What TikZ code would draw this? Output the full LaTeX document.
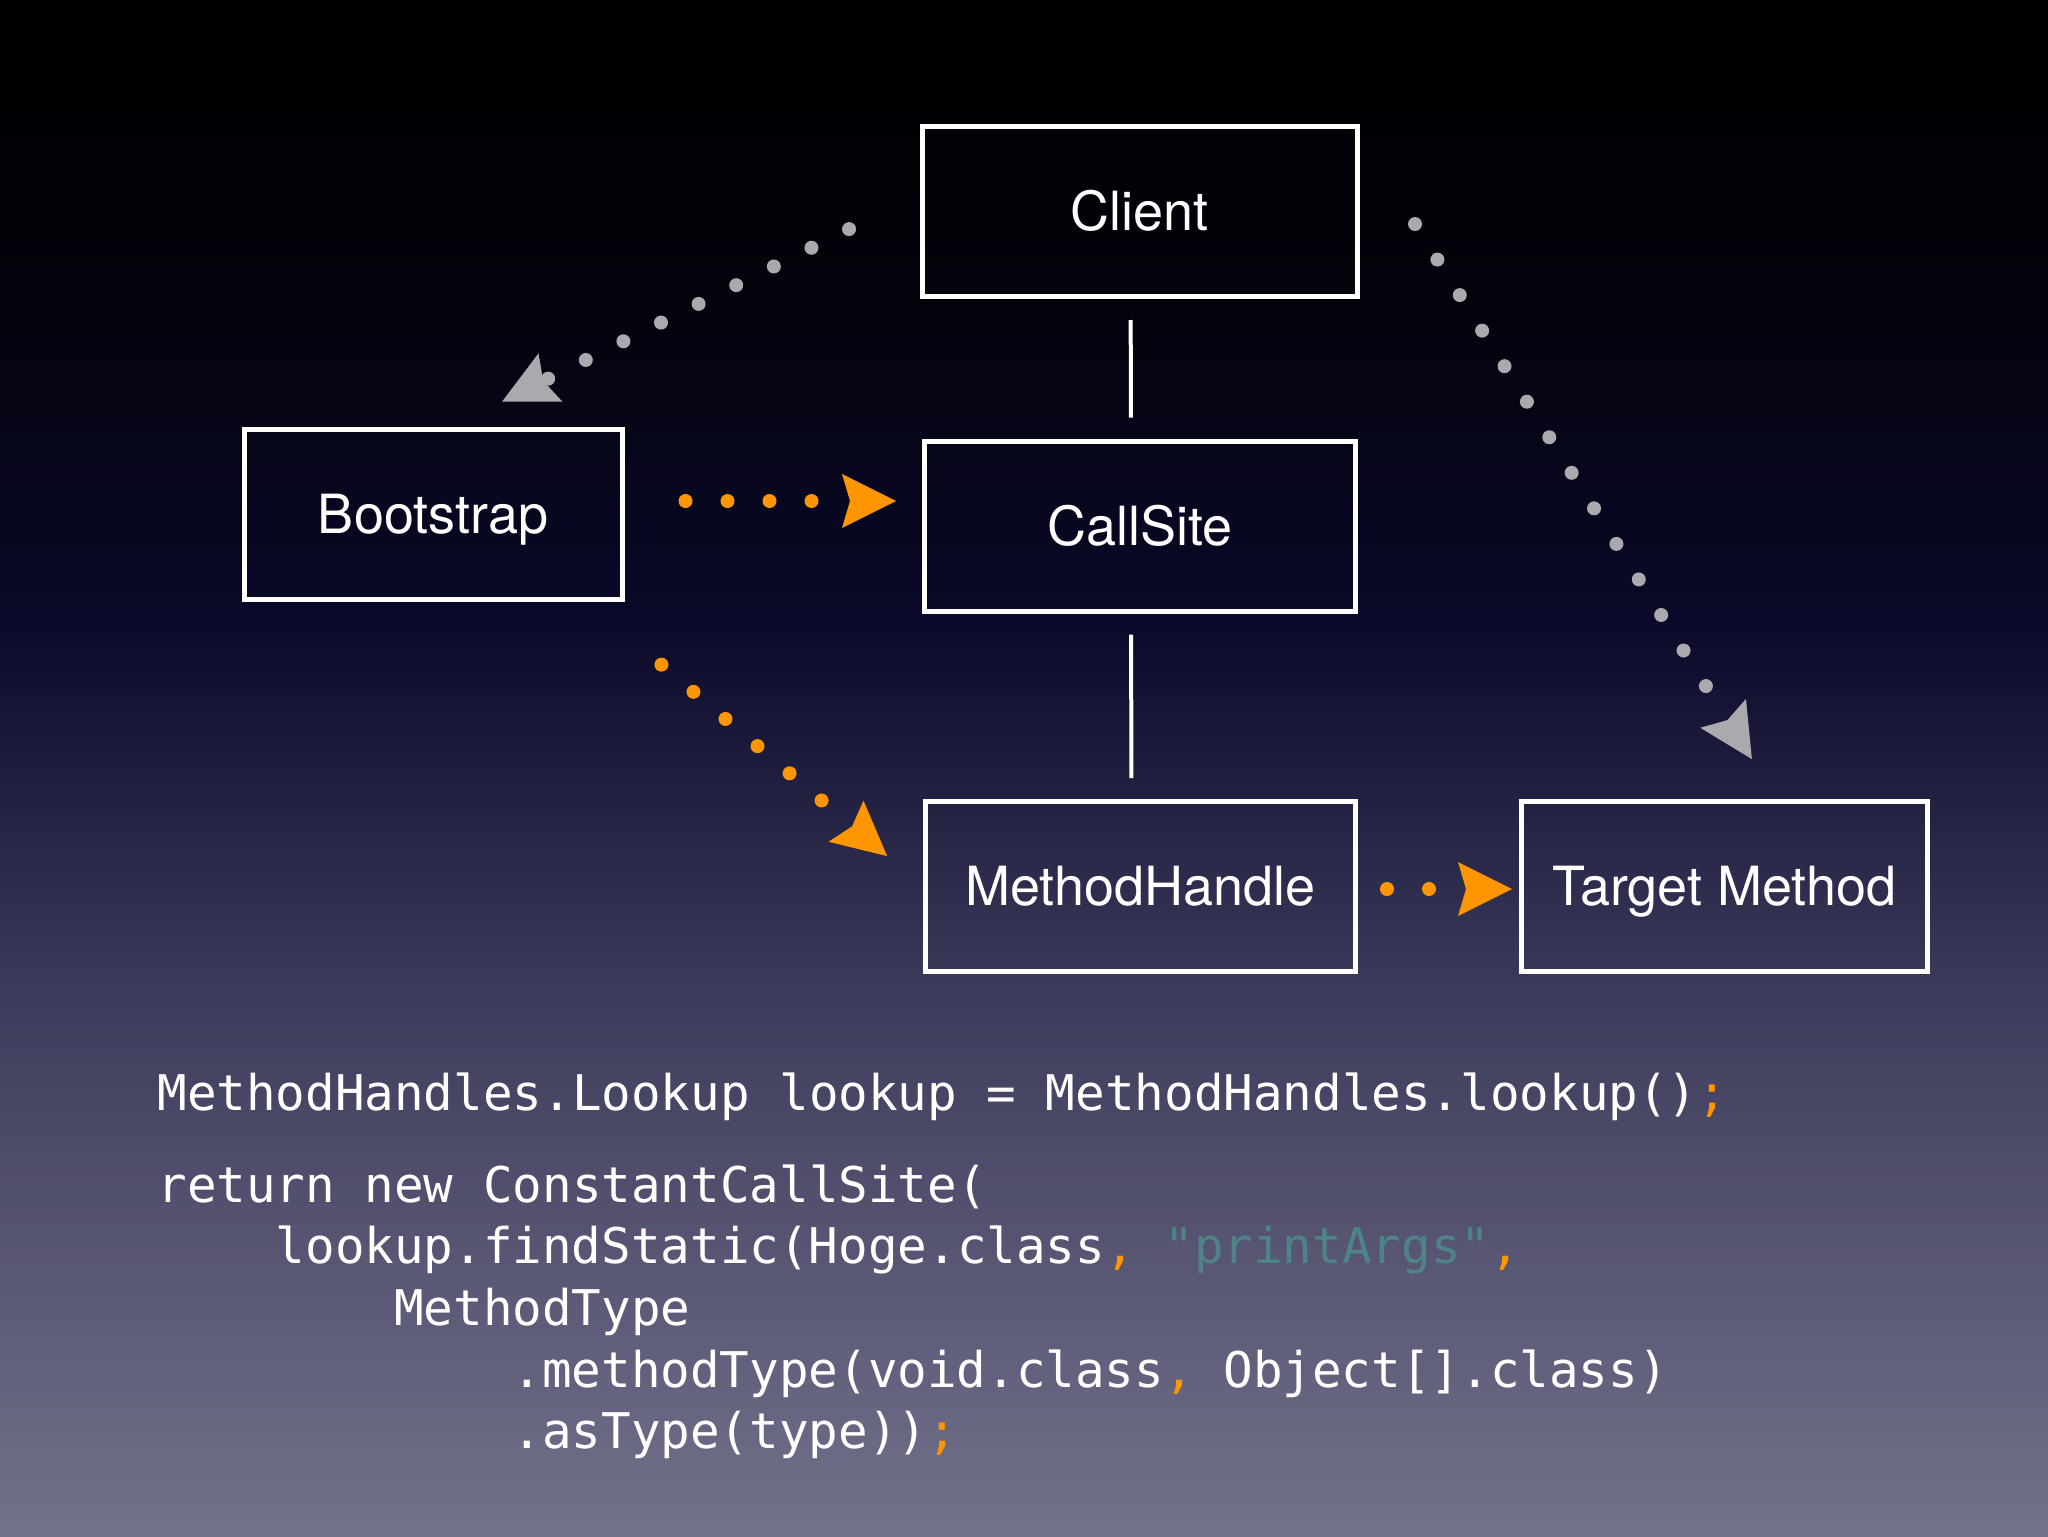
\documentclass[tikz,border=0pt]{standalone}
\usepackage{fontspec}
\setmainfont{TeX Gyre Heros}
\newfontfamily\codefont{DejaVu Sans Mono}
\usetikzlibrary{arrows.meta}

\definecolor{keyorange}{RGB}{255,150,0}
\definecolor{flowgray}{RGB}{170,170,174}
\definecolor{strteal}{RGB}{78,132,134}
\definecolor{bgA}{RGB}{3,3,12}
\definecolor{bgB}{RGB}{10,9,42}
\definecolor{bgC}{RGB}{62,60,92}
\definecolor{bgD}{RGB}{115,114,140}

\begin{document}
\begin{tikzpicture}[x=0.5pt, y=-0.5pt,
    box/.style={draw=white, line width=2.5pt, minimum height=85pt, text=white, text height=19.4pt, text depth=0pt, font=\fontsize{27}{32}\selectfont},
    link/.style={white, line width=2pt, shorten <=10.5pt, shorten >=10.5pt},
    flow/.style={line width=7pt, line cap=round, dash pattern=on 0pt off 21pt,
        -{Stealth[length=27pt, width=27pt, inset=4pt, line width=0pt]}},
    code/.style={anchor=base west, inner sep=0pt, text=white, font=\codefont\fontsize{24.6}{30}\selectfont}]
	% Background
	\useasboundingbox (0,0) rectangle (2048,1536);
	\fill[top color=black, bottom color=bgA] (0,0) rectangle (2048,301);
	\fill[top color=bgA, bottom color=bgB] (0,300) rectangle (2048,621);
	\fill[top color=bgB, bottom color=bgC] (0,620) rectangle (2048,1001);
	\fill[top color=bgC, bottom color=bgD] (0,1000) rectangle (2048,1536);

	% Boxes
	\node[box, minimum width=217.5pt] (client) at (1139.6,211.5) {Client};
	\node[box, minimum width=189pt] (bootstrap) at (433,514) {Bootstrap};
	\node[box, minimum width=215.5pt] (callsite) at (1140,526) {CallSite};
	\node[box, minimum width=215pt] (mhandle) at (1140.5,886.5) {MethodHandle};
	\node[box, minimum width=203pt] (target) at (1724.5,886.5) {Target Method};

	% Links
	\draw[link] ([shift={(-9,0)}]client.south) -- ([shift={(-9,0)}]callsite.north);
	\draw[link] ([shift={(-9,0)}]callsite.south) -- ([shift={(-9,0)}]mhandle.north);

	% Gray flows
	\draw[flow, flowgray, shorten <=39.4pt, shorten >=28pt] ([shift={(0,-17.5)}]client.west) -- ([shift={(19,0)}]bootstrap.north);
	\draw[flow, flowgray, shorten <=52pt, shorten >=23.6pt] ([shift={(0,12)}]client.north east) -- ([shift={(52.5,0)}]target.north);

	% Orange flows
	\draw[flow, keyorange, shorten <=30.5pt, shorten >=13pt] ([shift={(0,-13)}]bootstrap.east) -- ([shift={(0,-25)}]callsite.west);
	\draw[flow, keyorange, shorten <=48.8pt, shorten >=23.5pt] ([shift={(-37.5,0)}]bootstrap.south east) -- (mhandle.west);
	\draw[flow, keyorange, shorten <=14.5pt, shorten >=3.5pt] ([shift={(0,2.5)}]mhandle.east) -- ([shift={(0,2.5)}]target.west);

	% Code
	\node[code] (line1) at (157,1110) {MethodHandles.Lookup lookup = MethodHandles.lookup()\textcolor{keyorange}{;}};
	\node[code] (line2) at (157,1202) {return new ConstantCallSite(};
	\node[code] (line3) at (275.4,1263) {lookup.findStatic(Hoge.class\textcolor{keyorange}{,} \textcolor{strteal}{"printArgs"}\textcolor{keyorange}{,}};
	\node[code] (line4) at (393.8,1325) {MethodType};
	\node[code] (line5) at (512.2,1387) {.methodType(void.class\textcolor{keyorange}{,} Object[].class)};
	\node[code] (line6) at (512.2,1448) {.asType(type))\textcolor{keyorange}{;}};
\end{tikzpicture}
\end{document}
